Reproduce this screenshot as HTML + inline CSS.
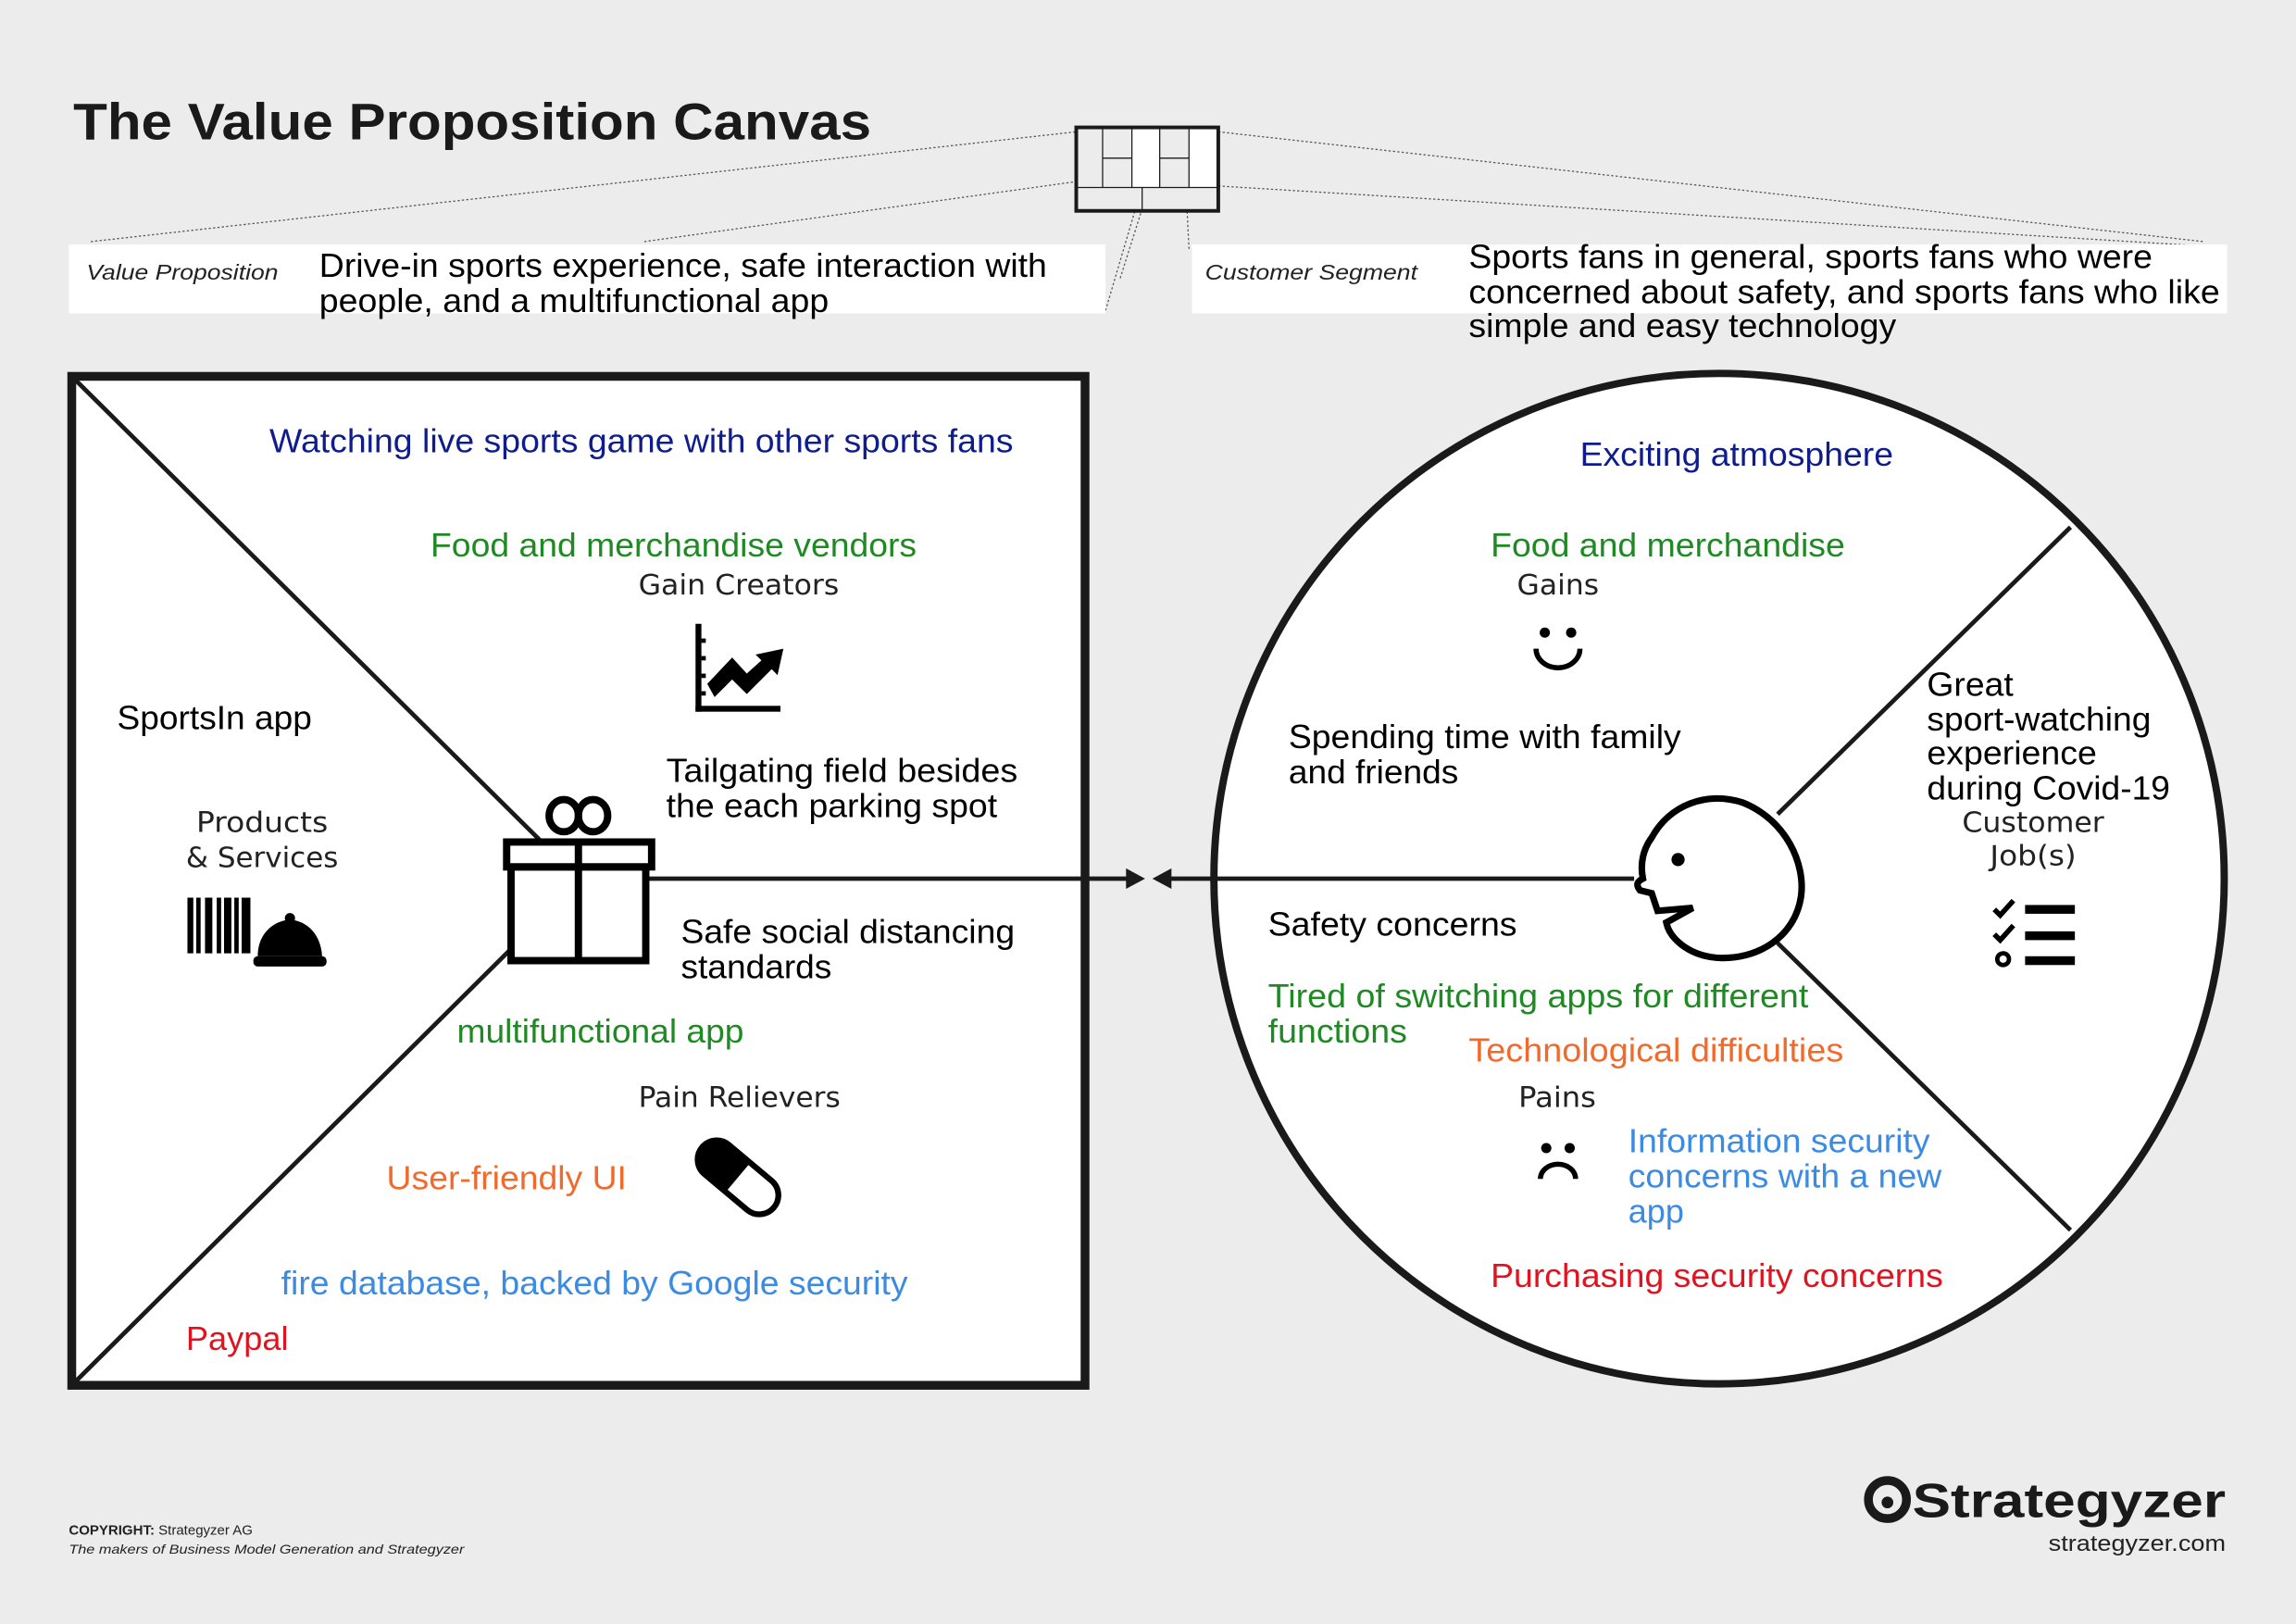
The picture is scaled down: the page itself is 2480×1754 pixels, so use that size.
<!DOCTYPE html>
<html><head><meta charset="utf-8"><style>
html,body{margin:0;padding:0;background:#ececec;}
svg{display:block}
text{font-family:"Liberation Sans",Arial,sans-serif;}
.m{font-size:23px}
.l{font-size:19px;fill:#222;font-family:"DejaVu Sans","Liberation Sans",sans-serif}
.nv{fill:#0f1d8c}.gr{fill:#1f8a24}.or{fill:#f26a2b}.bl{fill:#3b8be3}.rd{fill:#e01420}
</style></head><body>
<svg width="2480" height="1754" viewBox="0 0 1568 1109" xmlns="http://www.w3.org/2000/svg">
<rect width="1568" height="1109" fill="#ececec"/>
<text x="50" y="95" font-size="35" font-weight="bold" fill="#1a1a1a" textLength="545" lengthAdjust="spacingAndGlyphs">The Value Proposition Canvas</text>

<g stroke="#555" stroke-width="0.8" stroke-dasharray="1.5,1.5" fill="none">
<line x1="62" y1="165" x2="735" y2="90"/>
<line x1="440" y1="165" x2="735" y2="124"/>
<line x1="755" y1="212" x2="791" y2="90"/>
<line x1="765" y1="190" x2="784" y2="130"/>
<line x1="812" y1="170" x2="810" y2="130"/>
<line x1="832" y1="90" x2="1505" y2="165"/>
<line x1="832" y1="127" x2="1505" y2="168"/>
</g>
<g stroke="#1a1a1a" fill="none">
<rect x="735" y="87" width="97" height="57" fill="#ececec" stroke="none"/>
<rect x="773" y="88" width="19" height="40" fill="#fff" stroke="none"/>
<rect x="812" y="88" width="19" height="40" fill="#fff" stroke="none"/>
<rect x="735" y="87" width="97" height="57" stroke-width="2.5"/>
<g stroke-width="0.8">
<line x1="753" y1="88" x2="753" y2="128"/><line x1="773" y1="88" x2="773" y2="128"/>
<line x1="792" y1="88" x2="792" y2="128"/><line x1="812" y1="88" x2="812" y2="128"/>
<line x1="753" y1="108" x2="773" y2="108"/><line x1="792" y1="108" x2="812" y2="108"/>
<line x1="736" y1="128" x2="831" y2="128"/><line x1="780" y1="128" x2="780" y2="143"/>
</g></g>

<rect x="47" y="167" width="708" height="47" fill="#fff"/>
<rect x="814" y="167" width="707" height="47" fill="#fff"/>
<text x="59" y="191" font-size="14.5" font-style="italic" fill="#222" font-family="DejaVu Sans" textLength="131" lengthAdjust="spacingAndGlyphs">Value Proposition</text>
<text x="823" y="191" font-size="14.5" font-style="italic" fill="#222" font-family="DejaVu Sans" textLength="145" lengthAdjust="spacingAndGlyphs">Customer Segment</text>
<g class="m" fill="#000">
<text x="218" y="189" textLength="497" lengthAdjust="spacingAndGlyphs">Drive-in sports experience, safe interaction with</text>
<text x="218" y="213" textLength="348" lengthAdjust="spacingAndGlyphs">people, and a multifunctional app</text>
<text x="1003" y="183" textLength="467" lengthAdjust="spacingAndGlyphs">Sports fans in general, sports fans who were</text>
<text x="1003" y="207" textLength="513" lengthAdjust="spacingAndGlyphs">concerned about safety, and sports fans who like</text>
<text x="1003" y="230" textLength="292" lengthAdjust="spacingAndGlyphs">simple and easy technology</text>
</g>

<rect x="49" y="257" width="692" height="689" fill="#fff" stroke="#1a1a1a" stroke-width="6"/>
<line x1="52" y1="260" x2="370" y2="575" stroke="#1a1a1a" stroke-width="3"/>
<line x1="350" y1="647" x2="52" y2="943" stroke="#1a1a1a" stroke-width="3"/>

<circle cx="1174" cy="600" r="345" fill="#fff" stroke="#1a1a1a" stroke-width="5"/>
<line x1="1214" y1="556" x2="1414" y2="360" stroke="#1a1a1a" stroke-width="3"/>
<line x1="1214" y1="644" x2="1414" y2="840" stroke="#1a1a1a" stroke-width="3"/>

<line x1="440" y1="600" x2="772" y2="600" stroke="#1a1a1a" stroke-width="3"/>
<polygon points="782,600 769,593 769,607" fill="#1a1a1a"/>
<polygon points="787,600 800,593 800,607" fill="#1a1a1a"/>
<line x1="798" y1="600" x2="1116" y2="600" stroke="#1a1a1a" stroke-width="3"/>

<g fill="none" stroke="#000" stroke-width="5">
<rect x="346" y="575" width="99" height="17"/>
<rect x="349" y="592" width="92" height="64"/>
<line x1="395" y1="575" x2="395" y2="656"/>
<ellipse cx="385" cy="557" rx="10" ry="11"/>
<ellipse cx="405" cy="557" rx="10" ry="11"/>
</g>
<path d="M1122 600 C1120 590 1122 580 1128 572 C1140 550 1165 540 1190 548 C1220 560 1233 590 1230 612 C1226 640 1200 656 1172 654 C1152 652 1140 640 1138 630 L1156 620 L1132 622 L1128 610 L1120 608 C1117 604 1118 602 1122 600 Z" fill="#fff" stroke="#000" stroke-width="4.5"/>
<circle cx="1146" cy="587" r="4.5" fill="#000"/>

<g fill="#000">
<rect x="475" y="426" width="4" height="60"/>
<rect x="475" y="482" width="58" height="4"/>
<rect x="479" y="436" width="3" height="3"/><rect x="479" y="448" width="3" height="3"/><rect x="479" y="460" width="3" height="3"/><rect x="479" y="472" width="3" height="3"/>
<polygon points="483,467 500,449 510,460 520,451 516,447 535,443 531,461 527,457 510,474 500,464 488,476"/>
</g>
<g fill="#000">
<rect x="128" y="613" width="4" height="38"/><rect x="134" y="613" width="3" height="38"/><rect x="140" y="613" width="5" height="38"/>
<rect x="148" y="613" width="3" height="38"/><rect x="153" y="613" width="5" height="38"/><rect x="160" y="613" width="3" height="38"/><rect x="165" y="613" width="6" height="38"/>
<path d="M176 653 C176 638 186 629 198 628 C210 629 219 638 220 653 Z"/>
<circle cx="198" cy="627" r="3.5"/>
<rect x="173" y="653" width="50" height="7" rx="3"/>
</g>
<g transform="translate(504,804) rotate(40)">
<rect x="-32" y="-13" width="64" height="26" rx="13" fill="#fff" stroke="#000" stroke-width="4"/>
<path d="M0 -13 L-19 -13 A13 13 0 0 0 -19 13 L0 13 Z" fill="#000"/>
</g>
<circle cx="1055" cy="432" r="3.5" fill="#000"/><circle cx="1073" cy="432" r="3.5" fill="#000"/>
<path d="M1049 443 A15 13 0 0 0 1079 443" fill="none" stroke="#000" stroke-width="3.5"/>
<circle cx="1056" cy="784" r="3.5" fill="#000"/><circle cx="1072" cy="784" r="3.5" fill="#000"/>
<path d="M1052 805 A12 10 0 0 1 1076 805" fill="none" stroke="#000" stroke-width="3.5"/>
<g fill="#000">
<rect x="1383" y="618" width="34" height="6"/><rect x="1383" y="636" width="34" height="6"/><rect x="1383" y="653" width="34" height="6"/>
<path d="M1362 621 l4 4 l9 -10" fill="none" stroke="#000" stroke-width="3.5"/>
<path d="M1362 638 l4 4 l9 -10" fill="none" stroke="#000" stroke-width="3.5"/>
<circle cx="1368" cy="655" r="4" fill="none" stroke="#000" stroke-width="3"/>
</g>

<text class="l" x="436" y="406" textLength="137" lengthAdjust="spacingAndGlyphs">Gain Creators</text>
<text class="l" x="134" y="568" textLength="90" lengthAdjust="spacingAndGlyphs">Products</text>
<text class="l" x="127" y="592" textLength="104" lengthAdjust="spacingAndGlyphs">&amp; Services</text>
<text class="l" x="436" y="756" textLength="138" lengthAdjust="spacingAndGlyphs">Pain Relievers</text>
<text class="l" x="1036" y="406" textLength="56" lengthAdjust="spacingAndGlyphs">Gains</text>
<text class="l" x="1037" y="756" textLength="53" lengthAdjust="spacingAndGlyphs">Pains</text>
<text class="l" x="1340" y="568" textLength="97" lengthAdjust="spacingAndGlyphs">Customer</text>
<text class="l" x="1359" y="591" textLength="59" lengthAdjust="spacingAndGlyphs">Job(s)</text>

<g class="m">
<text class="nv" x="184" y="309" textLength="508" lengthAdjust="spacingAndGlyphs">Watching live sports game with other sports fans</text>
<text class="gr" x="294" y="380" textLength="332" lengthAdjust="spacingAndGlyphs">Food and merchandise vendors</text>
<text x="80" y="498" textLength="133" lengthAdjust="spacingAndGlyphs">SportsIn app</text>
<text x="455" y="534" textLength="240" lengthAdjust="spacingAndGlyphs">Tailgating field besides</text>
<text x="455" y="558" textLength="226" lengthAdjust="spacingAndGlyphs">the each parking spot</text>
<text x="465" y="644" textLength="228" lengthAdjust="spacingAndGlyphs">Safe social distancing</text>
<text x="465" y="668" textLength="103" lengthAdjust="spacingAndGlyphs">standards</text>
<text class="gr" x="312" y="712" textLength="196" lengthAdjust="spacingAndGlyphs">multifunctional app</text>
<text class="or" x="264" y="812" textLength="164" lengthAdjust="spacingAndGlyphs">User-friendly UI</text>
<text class="bl" x="192" y="884" textLength="428" lengthAdjust="spacingAndGlyphs">fire database, backed by Google security</text>
<text class="rd" x="127" y="922" textLength="70" lengthAdjust="spacingAndGlyphs">Paypal</text>

<text class="nv" x="1079" y="318" textLength="214" lengthAdjust="spacingAndGlyphs">Exciting atmosphere</text>
<text class="gr" x="1018" y="380" textLength="242" lengthAdjust="spacingAndGlyphs">Food and merchandise</text>
<text x="880" y="511" textLength="268" lengthAdjust="spacingAndGlyphs">Spending time with family</text>
<text x="880" y="535" textLength="116" lengthAdjust="spacingAndGlyphs">and friends</text>
<text x="1316" y="475" textLength="59" lengthAdjust="spacingAndGlyphs">Great</text>
<text x="1316" y="499" textLength="153" lengthAdjust="spacingAndGlyphs">sport-watching</text>
<text x="1316" y="522" textLength="116" lengthAdjust="spacingAndGlyphs">experience</text>
<text x="1316" y="546" textLength="166" lengthAdjust="spacingAndGlyphs">during Covid-19</text>
<text x="866" y="639" textLength="170" lengthAdjust="spacingAndGlyphs">Safety concerns</text>
<text class="gr" x="866" y="688" textLength="369" lengthAdjust="spacingAndGlyphs">Tired of switching apps for different</text>
<text class="gr" x="866" y="712" textLength="95" lengthAdjust="spacingAndGlyphs">functions</text>
<text class="or" x="1003" y="725" textLength="256" lengthAdjust="spacingAndGlyphs">Technological difficulties</text>
<text class="bl" x="1112" y="787" textLength="206" lengthAdjust="spacingAndGlyphs">Information security</text>
<text class="bl" x="1112" y="811" textLength="214" lengthAdjust="spacingAndGlyphs">concerns with a new</text>
<text class="bl" x="1112" y="835" textLength="38" lengthAdjust="spacingAndGlyphs">app</text>
<text class="rd" x="1018" y="879" textLength="309" lengthAdjust="spacingAndGlyphs">Purchasing security concerns</text>
</g>

<text x="47" y="1048" font-size="9.5" fill="#222" font-family="DejaVu Sans"><tspan font-weight="bold">COPYRIGHT:</tspan> Strategyzer AG</text>
<text x="47" y="1061" font-size="9" font-style="italic" fill="#222" font-family="DejaVu Sans" textLength="270" lengthAdjust="spacingAndGlyphs">The makers of Business Model Generation and Strategyzer</text>
<circle cx="1289" cy="1024" r="13" fill="none" stroke="#1a1a1a" stroke-width="6"/>
<circle cx="1289" cy="1026" r="4" fill="#1a1a1a"/>
<text x="1306" y="1036" font-size="33" font-weight="bold" fill="#1a1a1a" font-family="DejaVu Sans" textLength="214" lengthAdjust="spacingAndGlyphs">Strategyzer</text>
<text x="1399" y="1059" font-size="15" fill="#222" font-family="DejaVu Sans" textLength="121" lengthAdjust="spacingAndGlyphs">strategyzer.com</text>
</svg>
</body></html>
